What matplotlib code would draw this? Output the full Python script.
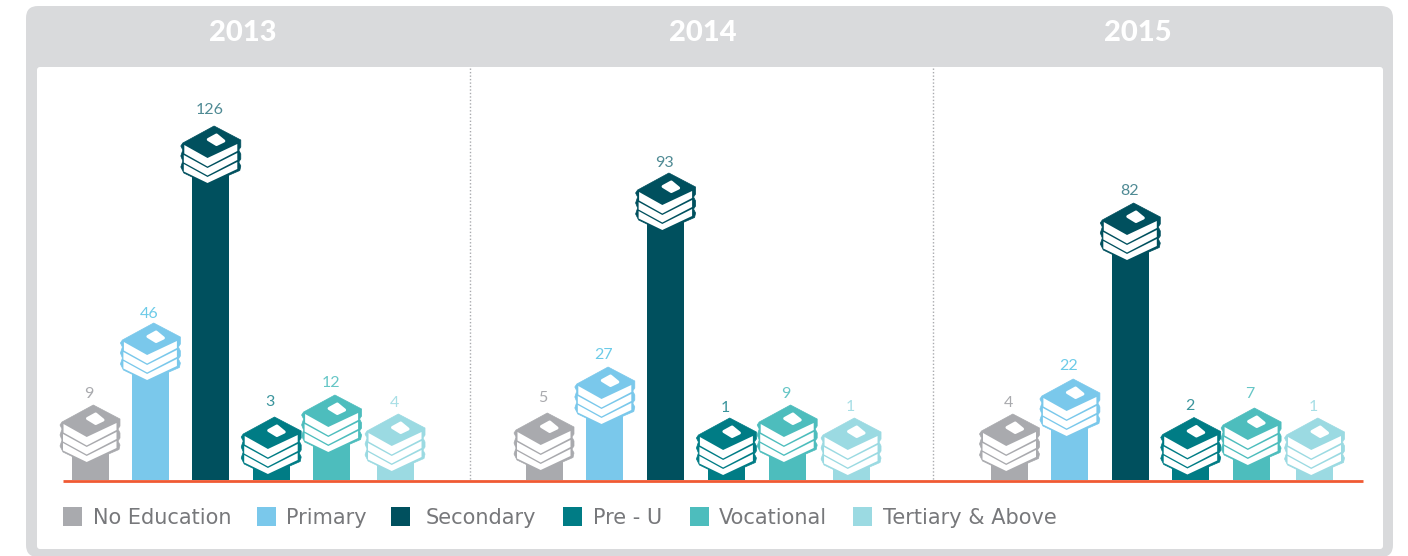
import numpy as np
import matplotlib
matplotlib.use('Agg')
import matplotlib.pyplot as plt
from matplotlib.patches import FancyBboxPatch, PathPatch, Rectangle
from matplotlib.path import Path
from matplotlib.transforms import Affine2D, ScaledTranslation

W, H = 1408, 556

years = ['2013', '2014', '2015']
categories = ['No Education', 'Primary', 'Secondary', 'Pre - U', 'Vocational', 'Tertiary & Above']
values_2013 = [9, 46, 126, 3, 12, 4]
values_2014 = [5, 27, 93, 1, 9, 1]
values_2015 = [4, 22, 82, 2, 7, 1]

colors = ['#A9AAAE', '#7AC8EB', '#00505E', '#007C85', '#4DBDBD', '#9BDAE2']
label_colors = ['#A9AAAE', '#6CCBE8', '#4F8A94', '#3A949C', '#66C6C6', '#A8DFE6']

# the source chart is not linear, so the axis uses this value -> pixel curve
scale_v = [0, 1, 2, 3, 4, 5, 7, 9, 12, 22, 27, 46, 82, 93, 126, 140]
scale_px = [0, 32, 32.5, 33, 36, 37, 42, 45, 55, 71, 83, 127, 247, 277, 324, 390]

# gap between icon and number, differs per label in the source
gaps_2013 = [11, 9, 16, 15, 12, 11]
gaps_2014 = [15, 12, 10, 10, 11, 11]
gaps_2015 = [11, 13, 12, 12, 14, 11]


def forward(v):
    return np.interp(v, scale_v, scale_px)


def inverse(p):
    return np.interp(p, scale_px, scale_v)


fig = plt.figure(figsize=(W / 100, H / 100), dpi=100)
bg = fig.add_axes([0, 0, 1, 1])
bg.set_xlim(0, W)
bg.set_ylim(H, 0)
bg.axis('off')

# panels
bg.add_patch(FancyBboxPatch((26, 6), 1367, 551, boxstyle='round,pad=0,rounding_size=12',
                            fc='#D9DADC', ec='none'))
bg.add_patch(FancyBboxPatch((40, 70), 1340, 476, boxstyle='round,pad=3', fc='white', ec='none'))
for x in [470, 933]:
    bg.plot([x, x], [68, 480], color='#A9AAAE', lw=1, ls=(0, (1, 1.5)))
bg.plot([63, 1363], [480.5, 480.5], color='#F05A33', lw=2.0, zorder=5, solid_capstyle='butt')

for year, cx in zip(years, [243, 703, 1138]):
    bg.text(cx, 33, year, color='white', fontsize=21, fontweight='black', family='Lato',
            ha='center', va='center')

# legend
legend_sq = [63, 257, 391, 563, 690, 853]
legend_tx = [93, 286, 426, 593, 719, 883]
for name, c, sx, tx in zip(categories, colors, legend_sq, legend_tx):
    bg.add_patch(Rectangle((sx, 507), 19, 19, fc=c, ec='none'))
    bg.text(tx, 524, name, color='#77787B', fontsize=15, family='DejaVu Sans',
            ha='left', va='baseline')

# book icon, pixel units relative to (bar centre, bar top)
TOP = 30
outline = [(3.3, 0), (30, -14), (30, -21), (28, -24), (30, -28), (30, -33), (28, -36), (30, -40), (29, -44.5),
           (-3.3, -58.5), (-27, -47), (-30, -41), (-28, -35), (-30, -30), (-28, -24), (-30, -20), (-28, -17), (3.3, 0)]
stripes = [[(-26.5, -19), (-3.3, -32), (26.5, -18), (26.5, -25), (-3.3, -40.5), (-26.5, -27.5)],
           [(-27, -29), (-3.3, -42), (26.5, -27), (26.5, -34), (-3.3, -49.5), (-27, -36.5)],
           [(-27, -38), (-3.3, -51), (26.5, -36), (26.5, -43), (-3.3, -57), (-27, -45.5)]]
note = [(-2.5, -13.5), (5.7, -9), (13, -15), (5.7, -18.5)]


def draw_icon(ax, x, v, c):
    base = Affine2D() + ScaledTranslation(x, v, ax.transData)
    for pts, lw, fc, z in [(outline, 0.5, c, 3), (stripes[0], 0, 'white', 4), (stripes[1], 0, 'white', 4),
                           (stripes[2], 0, 'white', 4), (note, 2.2, 'white', 4)]:
        shifted = [(a, b + TOP) for a, b in pts]
        path = Path(shifted + [shifted[0]], closed=True)
        ax.add_patch(PathPatch(path, fc=fc, ec=fc, lw=lw, joinstyle='round', transform=base,
                               zorder=z, clip_on=False))


# last bar of each group sits a little further out in the source
slots = [0, 1, 2, 3, 4, 5.05]
panels = [(values_2013, gaps_2013, 59.8, 60.4), (values_2014, gaps_2014, 513.6, 60.8),
          (values_2015, gaps_2015, 979.3, 60.4)]
for vals, gaps, left, step in panels:
    ax = fig.add_axes([left / W, (H - 480) / H, step * 6 / W, 390 / H])
    ax.patch.set_alpha(0)
    ax.set_yscale('function', functions=(forward, inverse))
    ax.set_xlim(-0.5, 5.5)
    ax.set_ylim(0, 140)
    ax.axis('off')
    ax.bar(slots, vals, width=37 / step, color=colors, zorder=2)
    for x, v, c, lc, gap in zip(slots, vals, colors, label_colors, gaps):
        draw_icon(ax, x, v, c)
        ax.annotate(str(v), (x, v), xytext=(-1, TOP + gap), textcoords='offset pixels', color=lc,
                    fontsize=11.5, family='Lato', ha='center', va='center')

fig.savefig('out.png', dpi=100)
